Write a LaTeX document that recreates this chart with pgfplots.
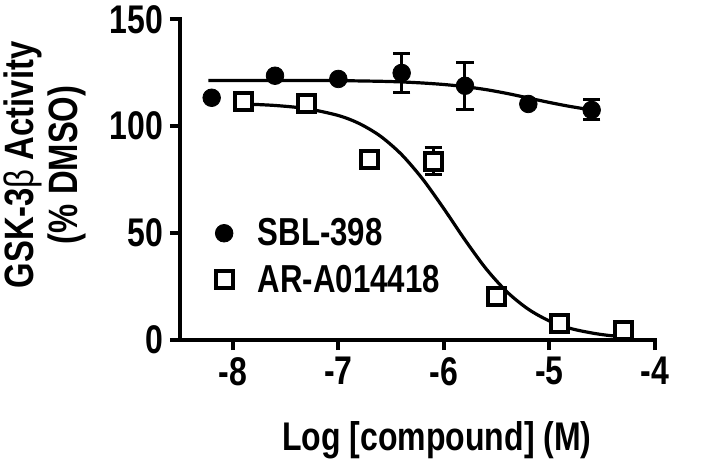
\documentclass[border=0pt]{standalone}
\usepackage{pgfplots}
\pgfplotsset{compat=1.18}
\usepackage{fontspec}
\setmainfont[FakeStretch=0.8]{Liberation Sans}
\begin{document}
\begin{tikzpicture}
\useasboundingbox (0,0) rectangle (356pt,230.5pt);
\begin{axis}[
  at={(90pt,60.5pt)}, anchor=south west,
  scale only axis, width=237.5pt, height=160.35pt,
  xmin=-8.5, xmax=-4, ymin=0, ymax=150,
  axis lines=left,
  axis line style={-, line width=2pt, black, line cap=rect},
  xtick={-8,-7,-6,-5,-4}, ytick={0,50,100,150},
  tick align=outside, major tick length=5pt,
  tick style={line width=2pt, black},
  /pgf/number format/assume math mode=true,
  ticklabel style={font=\fontsize{20}{24}\selectfont\bfseries},
  xlabel={Log [compound] (M)},
  xlabel style={at={(axis description cs:0.541,-0.343)}, anchor=base, font=\fontsize{20}{24}\selectfont\bfseries},
  ylabel={GSK-3{\mdseries β} Activity\\(\% DMSO)},
  ylabel style={at={(axis description cs:-0.284,0.546)}, anchor=center, align=center, font=\fontsize{20.5}{22}\selectfont\bfseries},
  legend style={draw=none, fill=none, at={(axis cs:-8.304,39)}, anchor=west,
    font=\fontsize{19.5}{22}\selectfont\bfseries, row sep=4.25pt},
  legend image code/.code={\draw[#1] plot coordinates {(0.3cm,0cm)}; \path[draw=none,fill=none] (0cm,0cm) -- (0.82cm,0cm);},
  legend cell align=left,
  reverse legend,
  clip=false,
]
% error bars (drawn first)
\addplot[forget plot, only marks, mark=none, black,
  error bars/.cd, y dir=both, y explicit,
  error bar style={line width=1.5pt, black},
  error mark options={rotate=90, line width=1.5pt, black, mark size=4.3pt}]
  coordinates {
  (-6.4,124.9) +- (0,9.3)
  (-5.8,118.9) +- (0,11)
  (-4.6,107.6) +- (0,4.7)
  (-6.1,83.7) +- (0,6.5)
  };
% AR-A014418 squares
\addplot[only marks, mark=square*, mark size=4.25pt,
  mark options={fill=white, draw=black, line width=2pt}]
  coordinates {
  (-7.9,111.5) (-7.3,110.7) (-6.7,84.5) (-6.1,83.7)
  (-5.5,20.3) (-4.9,7.5) (-4.3,4.5)
  };
\addlegendentry{AR-A014418}
% AR fit curve
\addplot[forget plot, black, line width=1.6pt, smooth, mark=none]
  coordinates {
  (-7.9,110.4) (-7.6,109.7) (-7.3,108.2) (-7.0,105.0) (-6.8,101.2)
  (-6.6,95.3) (-6.4,86.7) (-6.2,75.2) (-6.0,61.4) (-5.8,46.8)
  (-5.6,33.3) (-5.4,22.4) (-5.2,14.4) (-5.0,8.9) (-4.8,5.4)
  (-4.6,3.3) (-4.45,2.2) (-4.3,1.5)
  };
% SBL-398 fit curve
\addplot[forget plot, black, line width=1.6pt, smooth, mark=none]
  coordinates {
  (-8.23,121.4) (-7.6,121.4) (-7.0,121.3) (-6.6,121.0) (-6.4,120.7)
  (-6.2,120.2) (-6.0,119.5) (-5.8,118.5) (-5.6,117.1) (-5.4,115.3)
  (-5.2,113.2) (-5.0,111.1) (-4.8,109.2) (-4.6,107.6) (-4.54,107.2)
  };
% SBL-398 circles
\addplot[only marks, mark=*, mark size=4.4pt, mark options={fill=black, draw=black}]
  coordinates {
  (-8.2,113.3) (-7.6,123.6) (-7.0,122.1) (-6.4,124.9)
  (-5.8,118.9) (-5.2,110.4) (-4.6,107.6)
  };
\addlegendentry{SBL-398}
\end{axis}
\end{tikzpicture}
\end{document}
